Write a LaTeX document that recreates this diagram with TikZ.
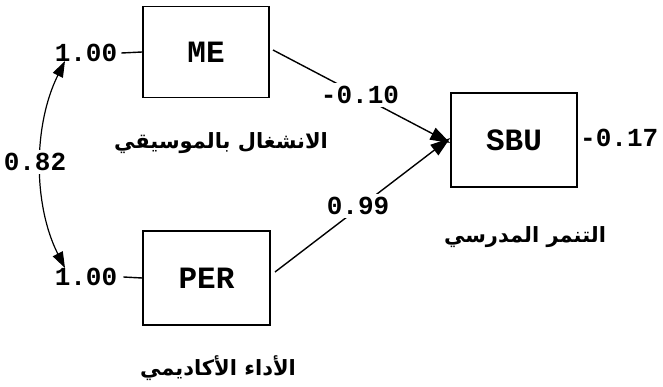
\documentclass[tikz,border=0pt]{standalone}
\usepackage{fontspec}
\setmonofont{Liberation Mono}
\newfontfamily\arabicfont[Script=Arabic]{DejaVu Sans}
\TeXXeTstate=1
\usetikzlibrary{arrows.meta}
\begin{document}
\begin{tikzpicture}[x=1pt,y=-1pt,
  varbox/.style={draw,line width=1.6pt,inner sep=0pt,font=\fontsize{31}{31}\selectfont\ttfamily\bfseries},
  num/.style={inner sep=0pt,font=\fontsize{26}{26}\selectfont\ttfamily\bfseries},
  arlab/.style={inner sep=0pt,font=\fontsize{21}{24}\selectfont\arabicfont\bfseries},
  arrowline/.style={line width=1.4pt,-{Triangle[length=20pt,width=13pt]}},
  lnk/.style={line width=1.4pt}]
\useasboundingbox (0,0) rectangle (663,387);
\node[varbox,minimum width=126pt,minimum height=91pt] (me) at (206,52) {ME};
\node[varbox,minimum width=127pt,minimum height=94pt] (per) at (206.5,278) {PER};
\node[varbox,minimum width=126pt,minimum height=94pt] (sbu) at (514,140) {SBU};
\node[num] (e1) at (86,53) {1.00};
\node[num] (e2) at (86,277) {1.00};
\draw[lnk] ([xshift=4pt]e1.east) -- (me.west);
\draw[lnk] ([xshift=6pt]e2.east) -- (per.west);
\coordinate (c1) at (65,61);
\coordinate (c2) at (65,268);
\draw[line width=1.2pt,{Triangle[length=16pt,width=11pt]}-{Triangle[length=16pt,width=11pt]}] (c1) .. controls (33,125) and (33,205) .. (c2);
\node[num,fill=white,inner sep=3pt] (r) at (35,162) {0.82};
\coordinate (m1) at (273,50);
\coordinate (p1) at (275,272);
\draw[arrowline] (m1) -- ([yshift=-3pt]sbu.west);
\draw[arrowline] (p1) -- ([yshift=2pt]sbu.west);
\node[num,fill=white,inner sep=3pt] (w1) at (360,95) {-0.10};
\node[num,fill=white,inner sep=3pt] (w2) at (358,206) {0.99};
\node[num,anchor=west] (res) at (580,138) {-0.17};
\node[arlab] (a1) at (221,143) {\beginR الانشغال بالموسيقي\endR};
\node[arlab] (a2) at (218,368) {\beginR الأداء الأكاديمي\endR};
\node[arlab] (a3) at (525,237) {\beginR التنمر المدرسي\endR};
\end{tikzpicture}
\end{document}
